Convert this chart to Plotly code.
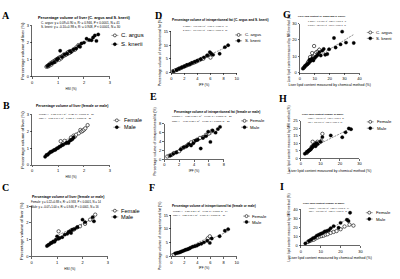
import numpy as np
import plotly.graph_objects as go

W, H = 400, 279

# ---------------- data ----------------
# Panel A: HSI vs percentage volume of liver
A_argus_x = [0.55,0.58,0.62,0.65,0.68,0.7,0.72,0.75,0.78,0.8,0.82,0.85,0.88,0.9,0.92,0.95,0.98,1.0,1.02,1.05,1.08,1.1,1.12,1.15,1.2,1.22,1.25,1.3,1.35,1.38,1.4,1.45,1.5,1.55,1.6,1.65,1.7,1.78]
A_argus_y = [0.58,0.62,0.6,0.7,0.66,0.75,0.8,0.72,0.85,0.82,0.9,0.86,0.95,0.88,1.0,0.98,1.05,1.02,1.1,1.0,1.15,1.12,1.08,1.2,1.22,1.3,1.25,1.28,1.4,1.35,1.45,1.4,1.5,1.52,1.6,1.58,1.72,1.85]
A_knerii_x = [0.6,0.65,0.75,0.85,0.95,1.0,1.08,1.15,1.25,1.35,1.45,1.5,1.6,1.7,1.8,1.85,1.9,2.0,2.1,2.2,2.29,2.35,2.42,2.48,2.55]
A_knerii_y = [0.62,0.7,0.78,0.85,1.0,1.05,1.52,1.15,1.3,1.35,1.5,1.45,1.6,1.65,1.8,1.75,1.95,2.0,2.23,2.15,2.14,2.3,2.42,2.1,2.48]

# Panel B: HSI, female / male
B_female_x = [1.1,1.25,1.5,1.6,1.65,1.7,1.8,1.86,1.9,1.95,2.0,2.05,2.14]
B_female_y = [1.43,1.45,1.65,1.76,1.7,1.82,1.9,2.1,2.0,2.05,2.12,2.2,2.39]
B_male_x = [0.5,0.55,0.6,0.65,0.7,0.75,0.8,0.85,0.9,0.95,1.0,1.05,1.1,1.15,1.2,1.3,1.35,1.4,1.45,1.5,1.55,1.6]
B_male_y = [0.5,0.6,0.62,0.7,0.78,0.8,0.85,0.9,0.92,1.0,1.02,1.1,1.12,1.2,1.22,1.3,1.35,1.32,1.45,1.5,1.55,1.65]

# Panel C: HSI, female / male
C_female_x = [1.06,1.55,1.65,1.8,1.9,2.1,2.3,2.5]
C_female_y = [1.5,1.55,1.6,1.75,1.8,1.95,2.2,2.5]
C_male_x = [0.6,0.65,0.7,0.75,0.8,0.85,0.9,0.95,1.0,1.05,1.1,1.2,1.3,1.4,1.45,1.5,1.55,1.6,1.7,1.8,2.0,2.1,2.45,2.4]
C_male_y = [0.62,0.68,0.72,0.8,0.82,0.9,0.88,1.0,1.2,1.05,1.1,1.15,1.3,1.35,1.45,1.5,1.4,1.6,1.65,1.75,2.2,2.05,2.1,2.35]

# Panel D: IPF vs percentage volume of intraperitoneal fat
D_argus_x = [0.2,0.4,0.6,0.9,1.1,1.3,1.5,1.7,1.9,2.1,2.3,2.5,2.8,3.0,3.2,3.5,3.8,4.0,4.3,4.6,4.9,5.5,6.0,6.0]
D_argus_y = [0.5,0.6,0.9,1.1,1.4,1.5,1.8,2.0,2.2,2.4,2.6,2.8,3.0,3.3,3.5,3.7,4.0,4.3,4.6,5.0,5.1,6.2,6.8,5.5]
D_knerii_x = [0.3,0.8,1.2,1.6,2.0,2.4,2.8,3.2,3.6,4.0,4.5,5.0,5.5,5.9,6.1,6.4,7.4,8.2,8.7]
D_knerii_y = [0.4,1.0,1.5,1.9,2.3,2.8,3.1,3.6,4.0,4.4,4.9,5.6,6.3,7.5,7.0,6.5,6.9,9.3,10.0]

# Panel E
E_female_x = [0.4,0.7,1.0,1.3,1.7,2.0,2.3,2.6,2.9,3.2,3.6,4.0,4.4,4.8,5.2,5.6,6.0,6.4]
E_female_y = [0.6,0.8,1.0,1.4,1.6,1.8,2.4,2.6,2.9,3.3,3.8,4.1,4.4,4.8,5.0,5.5,5.8,6.4]
E_male_x = [0.8,1.2,1.6,2.2,2.6,3.0,3.3,3.6,3.9,4.2,4.5,4.9,5.2,5.6,5.9,6.2,6.5,6.9,7.2,7.5]
E_male_y = [0.8,1.2,1.5,2.2,2.7,2.9,3.4,3.1,3.6,4.2,4.4,2.4,4.8,5.2,6.2,3.9,6.5,6.0,6.8,7.3]

# Panel F
F_female_x = [0.15,0.4,5.6,5.9]
F_female_y = [0.35,0.6,6.6,7.3]
F_male_x = [0.6,0.8,1.0,1.2,1.4,1.6,1.8,2.0,2.2,2.4,2.6,2.8,3.0,3.3,3.6,3.9,4.2,4.6,5.0,5.5,5.9,6.2,7.4,8.2,8.7]
F_male_y = [1.1,1.2,1.3,1.4,1.6,1.8,2.0,2.2,2.4,2.5,2.7,2.9,3.2,3.5,3.7,3.9,4.3,4.6,5.1,5.7,4.9,6.5,7.3,9.3,9.9]

# Panel G: liver lipid, chemical vs MRI
G_argus_x = [2.5,3.5,4.5,5.0,5.5,6.0,6.5,7.0,7.5,8.0,8.5,9.0,9.5,10.0,11.0,12.0,13.0,9.5,6.8,8.2]
G_argus_y = [3.0,4.0,5.0,5.5,6.5,7.0,7.5,8.0,9.0,9.5,10.0,10.5,11.0,11.5,12.5,13.0,14.0,16.3,9.5,12.0]
G_knerii_x = [2.0,3.0,4.0,5.0,6.0,6.5,7.0,8.0,9.0,10.0,11.0,12.0,13.0,14.0,15.0,16.0,17.0,18.4,19.6,22.9,24.0,27.3,28.4,31.0,36.2]
G_knerii_y = [2.5,3.5,4.5,5.2,6.0,8.0,7.0,8.5,7.5,9.0,10.0,11.0,12.5,10.5,13.5,14.5,11.0,11.4,14.3,21.2,15.4,17.3,25.1,18.4,18.2]

# Panel H
H_female_x = [3.0,4.0,5.0,5.5,6.0,6.5,7.0,7.5,8.0,8.5,9.0,10.5,11.0,6.0]
H_female_y = [3.5,5.0,6.0,7.5,8.0,8.5,9.0,10.0,9.5,11.0,10.0,11.5,16.3,11.0]
H_male_x = [2.0,3.0,3.5,4.0,4.5,5.0,5.5,6.0,6.5,7.0,7.5,8.0,8.5,10.0,11.0,15.3,21.2,22.9,24.6,25.7]
H_male_y = [3.0,4.0,4.5,5.0,5.5,6.0,7.0,7.5,8.5,9.0,8.0,10.0,9.5,11.0,14.1,15.2,14.0,17.3,19.9,19.4]

# Panel I
I_female_x = [3.5,4.5,5.5,6.5,7.5,8.5,9.5,10.5,11.5,12.5,13.5,15.0,16.5,18.0,20.0,22.0,24.5,26.5]
I_female_y = [4.0,5.0,6.0,6.5,8.0,9.0,10.0,10.5,11.0,12.0,12.5,14.0,15.0,16.0,18.0,21.0,23.0,22.0]
I_male_x = [2.2,4.0,5.0,6.0,7.0,8.0,9.0,10.0,11.0,12.0,13.0,14.0,15.0,16.5,19.0,20.0,23.2,24.8,24.0]
I_male_y = [2.4,5.0,6.5,8.0,9.0,11.0,12.0,13.0,14.0,15.5,16.0,17.0,19.0,21.4,19.6,25.0,28.4,36.1,27.0]

# text
TITLES = {
    'A': "Percentage volume of liver (C. argus and S. knerii)",
    'B': "Percentage volume of liver (female or male)",
    'C': "Percentage volume of liver (female or male)",
    'D': "Percentage volume of intraperitoneal fat (C. argus and S. knerii)",
    'E': "Percentage volume of intraperitoneal fat (female or male)",
    'F': "Percentage volume of intraperitoneal fat (female or male)",
    'G': "Liver lipid content (C. argus and S. knerii)",
    'H': "Liver lipid content (female or male)",
    'I': "Liver lipid content (female or male)",
}
EQUATIONS = {
    'A': ["C. argus: y = 0.09+0.90 x, R² = 0.946, P < 0.0001, N = 41",
          "S. knerii: y = -0.10+0.98 x, R² = 0.948, P < 0.0001, N = 30"],
    'B': ["Female: y = 0.13+0.91 x, R² = 0.920, P < 0.0001, N = 20",
          "Male: y = 0.02+1.04 x, R² = 0.983, P < 0.0001, N = 21"],
    'C': ["Female: y = 0.22+0.88 x, R² = 0.933, P < 0.0001, N = 14",
          "Male: y = -0.07+1.00 x, R² = 0.946, P < 0.0001, N = 16"],
    'D': ["C. argus: y = 0.07+1.05 x, R² = 0.965, P < 0.0001, N = 40",
          "S. knerii: y = 0.14+1.10 x, R² = 0.955, P < 0.0001, N = 30"],
    'E': ["Female: y = 0.28+1.03 x, R² = 0.968, P < 0.0001, N = 20",
          "Male: y = -0.08+1.05 x, R² = 0.918, P < 0.0001, N = 20"],
    'F': ["Female: y = 0.30+1.11 x, R² = 0.975, P < 0.0001, N = 14",
          "Male: y = 0.25+1.07 x, R² = 0.960, P < 0.0001, N = 16"],
    'G': ["C. argus: y = 0.43+1.08 x, R² = 0.827, P < 0.0001, N = 41",
          "S. knerii: y = 3.29+0.63 x, R² = 0.799, P < 0.0001, N = 30"],
    'H': ["Female: y = 0.81+0.99 x, R² = 0.753, P < 0.0001, N = 20",
          "Male: y = 2.87+0.63 x, R² = 0.865, P < 0.0001, N = 21"],
    'I': ["Female: y = 0.96+0.86 x, R² = 0.886, P < 0.0001, N = 14",
          "Male: y = 1.30+1.26 x, R² = 0.880, P < 0.0001, N = 16"],
}
X_TITLES = {'HSI': "HSI (%)", 'IPF': "IPF (%)", 'LIP': "Liver lipid content measured by chemical method (%)"}
Y_TITLES = {'HSI': "Percentage volume of liver (%)", 'IPF': "Percentage volume of intraperitoneal fat (%)",
            'LIP': "Liver lipid content measured by MRI method (%)"}
SPECIES = ["C. argus", "S. knerii"]
SEXES = ["Female", "Male"]

# ---------------- layout config (pixel boxes, font sizes) ----------------
panels = [
    dict(k='A', kind='HSI', s=[(A_argus_x, A_argus_y), (A_knerii_x, A_knerii_y)], names=SPECIES,
         xr=[0, 3], xt=[0, 1, 2, 3], yr=[0, 3], yt=[0, 1, 2, 3], box=(31.5, 110, 23, 75),
         letter=(5, 13), title=(84, 15), tfs=3.85, eq=(39, 20.7, 24.7), efs=3.1,
         leg=(115, 120, 33, 42), lfs=6.0),
    dict(k='B', kind='HSI', s=[(B_female_x, B_female_y), (B_male_x, B_male_y)], names=SEXES,
         xr=[0, 3], xt=[0, 1, 2, 3], yr=[0, 3], yt=[0, 1, 2, 3], box=(31.5, 110, 114, 165),
         letter=(6, 104), title=(72, 105), tfs=3.5, eq=(37, 114, 118), efs=2.2,
         leg=(117, 123.5, 119.5, 126.5), lfs=5.4),
    dict(k='C', kind='HSI', s=[(C_female_x, C_female_y), (C_male_x, C_male_y)], names=SEXES,
         xr=[0, 3], xt=[0, 1, 2, 3], yr=[0, 3], yt=[0, 1, 2, 3], box=(31, 108, 207, 258),
         letter=(5, 188), title=(68, 198), tfs=3.5, eq=(29, 202.5, 207.5), efs=2.8,
         leg=(115, 120.5, 211.5, 217.8), lfs=5.6),
    dict(k='D', kind='IPF', s=[(D_argus_x, D_argus_y), (D_knerii_x, D_knerii_y)], names=SPECIES,
         xr=[0, 10], xt=[0, 2, 4, 6, 8, 10], yr=[0, 15], yt=[0, 5, 10, 15], box=(172, 238, 29, 71),
         letter=(159, 13), title=(222, 17), tfs=3.2, eq=(183, 24, 28), efs=1.75,
         leg=(240, 245, 32.5, 38.5), lfs=4.3),
    dict(k='E', kind='IPF', s=[(E_female_x, E_female_y), (E_male_x, E_male_y)], names=SEXES,
         xr=[0, 8], xt=[0, 2, 4, 6, 8], yr=[0, 8], yt=[0, 2, 4, 6, 8], box=(165, 225, 123, 159),
         letter=(154, 95), title=(218.5, 111), tfs=3.2, eq=(172, 116, 120.5), efs=2.4,
         leg=(246, 251, 120, 126.5), lfs=4.3),
    dict(k='F', kind='IPF', s=[(F_female_x, F_female_y), (F_male_x, F_male_y)], names=SEXES,
         xr=[0, 10], xt=[0, 2, 4, 6, 8, 10], yr=[0, 15], yt=[0, 5, 10, 15], box=(172, 238, 216, 258),
         letter=(153, 188), title=(215.5, 207), tfs=3.1, eq=(173, 212.3, 216.3), efs=2.2,
         leg=(248, 253, 217, 223), lfs=4.3),
    dict(k='G', kind='LIP', s=[(G_argus_x, G_argus_y), (G_knerii_x, G_knerii_y)], names=SPECIES,
         xr=[0, 40], xt=[0, 10, 20, 30, 40], yr=[0, 30], yt=[0, 10, 20, 30], box=(302, 362, 21, 71),
         letter=(289, 12), title=(324, 14), tfs=2.4, eq=(309, 19.3, 22.7), efs=1.5,
         leg=(373, 378, 30, 36), lfs=4.3),
    dict(k='H', kind='LIP', s=[(H_female_x, H_female_y), (H_male_x, H_male_y)], names=SEXES,
         xr=[0, 30], xt=[0, 10, 20, 30], yr=[0, 25], yt=[0, 5, 10, 15, 20, 25], box=(303, 362, 120, 158),
         letter=(285, 97), title=(325.5, 113.3), tfs=2.5, eq=(309, 117.7, 121.7), efs=1.45,
         leg=(373, 379, 121, 127.5), lfs=4.3),
    dict(k='I', kind='LIP', s=[(I_female_x, I_female_y), (I_male_x, I_male_y)], names=SEXES,
         xr=[0, 30], xt=[0, 10, 20, 30], yr=[0, 40], yt=[0, 10, 20, 30, 40], box=(303, 363, 210, 247),
         letter=(284, 187), title=(326, 203.7), tfs=2.5, eq=(310, 209, 212.5), efs=1.6,
         leg=(372, 378, 213.5, 220), lfs=4.3),
]

FONT = "Liberation Sans, Arial, sans-serif"
TICK_FS = 4
XT_FS = {'HSI': 3.2, 'IPF': 3.1, 'LIP': 3.5}
YT_FS = {'HSI': 4.2, 'IPF': 3.5, 'LIP': 3.2}


def fx(px):
    return px / W


def fy(py):
    return 1 - py / H


fig = go.Figure()
layout = dict(width=W, height=H, margin=dict(l=0, r=0, t=0, b=0),
              paper_bgcolor="white", plot_bgcolor="white", showlegend=False,
              font=dict(family=FONT, color="black", size=TICK_FS))
annotations = []
shapes = []

for i, p in enumerate(panels, start=1):
    xa = 'x' if i == 1 else f'x{i}'
    ya = 'y' if i == 1 else f'y{i}'
    x0, x1, yt, yb = p['box']
    axis_common = dict(showgrid=False, zeroline=False, showline=True, linecolor="black", linewidth=0.6,
                       ticks="outside", ticklen=1.8, tickwidth=0.6, tickcolor="black",
                       tickfont=dict(size=TICK_FS, family=FONT), fixedrange=True)
    layout['xaxis' if i == 1 else f'xaxis{i}'] = dict(
        axis_common, domain=[fx(x0), fx(x1)], anchor=ya, range=p['xr'], tickvals=p['xt'],
        title=dict(text=X_TITLES[p['kind']], font=dict(size=XT_FS[p['kind']], family=FONT), standoff=3))
    layout['yaxis' if i == 1 else f'yaxis{i}'] = dict(
        axis_common, domain=[fy(yb), fy(yt)], anchor=xa, range=p['yr'], tickvals=p['yt'],
        title=dict(text=Y_TITLES[p['kind']], font=dict(size=YT_FS[p['kind']], family=FONT), standoff=2))

    for j, (sx, sy) in enumerate(p['s']):
        sx = np.asarray(sx, float)
        sy = np.asarray(sy, float)
        b, a = np.polyfit(sx, sy, 1)
        lx = np.array([sx.min(), sx.max()])
        fig.add_trace(go.Scatter(x=lx, y=a + b * lx, mode='lines', xaxis=xa, yaxis=ya,
                                 line=dict(color="#444", width=0.6, dash="2px,1px"), hoverinfo='skip'))
    for j, (sx, sy) in enumerate(p['s']):
        if j == 0:
            mk = dict(symbol='circle', size=3.4, color='white', line=dict(color='black', width=0.6))
        else:
            mk = dict(symbol='circle', size=3.4, color='black', line=dict(color='black', width=0.3))
        fig.add_trace(go.Scatter(x=sx, y=sy, mode='markers', xaxis=xa, yaxis=ya, marker=mk,
                                 name=p['names'][j]))

    lx_, ly_ = p['letter']
    annotations.append(dict(x=fx(lx_), y=fy(ly_), xref='paper', yref='paper', text=f"<b>{p['k']}</b>",
                            showarrow=False, xanchor='center', yanchor='middle', borderpad=0,
                            font=dict(family="Liberation Serif, Times New Roman, serif", size=10)))
    tx, ty = p['title']
    annotations.append(dict(x=fx(tx), y=fy(ty), xref='paper', yref='paper', text=f"<b>{TITLES[p['k']]}</b>",
                            showarrow=False, xanchor='center', yanchor='middle', borderpad=0,
                            font=dict(family=FONT, size=p['tfs'])))
    ex, ey1, ey2 = p['eq']
    for line_txt, ey in zip(EQUATIONS[p['k']], (ey1, ey2)):
        annotations.append(dict(x=fx(ex), y=fy(ey), xref='paper', yref='paper', text=line_txt,
                                showarrow=False, xanchor='left', yanchor='middle', borderpad=0,
                                font=dict(family=FONT, size=p['efs'])))
    mx, tx2, ly1, ly2 = p['leg']
    for j, ly in enumerate((ly1, ly2)):
        shapes.append(dict(type='line', xref='paper', yref='paper', x0=fx(mx - 3.5), x1=fx(mx + 3.5),
                           y0=fy(ly), y1=fy(ly), line=dict(color='#444', width=0.5)))
        r = 1.5
        shapes.append(dict(type='circle', xref='paper', yref='paper', x0=fx(mx - r), x1=fx(mx + r),
                           y0=fy(ly + r), y1=fy(ly - r),
                           fillcolor='white' if j == 0 else 'black', line=dict(color='black', width=0.6)))
        annotations.append(dict(x=fx(tx2), y=fy(ly), xref='paper', yref='paper', text=p['names'][j],
                                showarrow=False, xanchor='left', yanchor='middle', borderpad=0,
                                font=dict(family=FONT, size=p['lfs'])))

layout['annotations'] = annotations
layout['shapes'] = shapes
fig.update_layout(**layout)
fig.write_html("out.html", config={'displayModeBar': False, 'staticPlot': True},
               post_script="document.body.style.margin='0';document.body.style.overflow='hidden';")
